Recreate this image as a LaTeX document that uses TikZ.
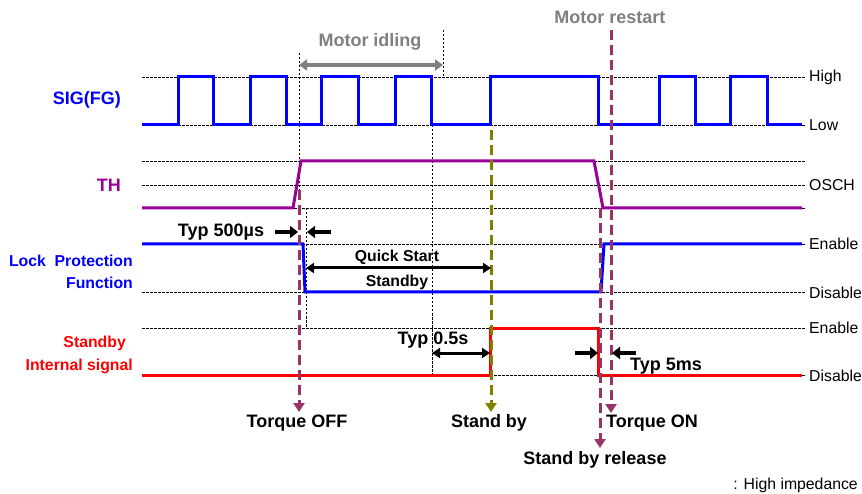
\documentclass[tikz,border=0pt]{standalone}
\usepackage{fontspec}
\setmainfont{Liberation Sans}
\usetikzlibrary{arrows.meta}
\definecolor{sigblue}{HTML}{0000FF}
\definecolor{thpurple}{HTML}{990099}
\definecolor{sbred}{HTML}{FF0000}
\definecolor{maroon}{HTML}{993366}
\definecolor{olive}{HTML}{808000}
\definecolor{motorgray}{HTML}{808080}
\tikzset{
  refline/.style={black,line width=0.9pt,dash pattern=on 2.5pt off 1.5pt},
  wave/.style={line width=3pt,line join=miter},
  evarrow/.style={line width=3pt,dash pattern=on 10pt off 5pt,-{Triangle[length=9pt,width=11pt]}},
  dimarrow/.style={black,line width=3.5pt,-{Triangle[length=8pt,width=12pt]}},
  dimboth/.style={black,line width=3pt,{Triangle[length=8pt,width=10pt]}-{Triangle[length=8pt,width=10pt]}},
  bigb/.style={font=\fontsize{18}{20}\selectfont\bfseries,inner sep=1pt},
  smallb/.style={font=\fontsize{15.8}{18}\selectfont\bfseries,inner sep=1pt},
  lvl/.style={font=\fontsize{15.8}{18}\selectfont,inner sep=0pt,anchor=west},
}
\begin{document}
\begin{tikzpicture}[x=1pt,y=-1pt]
\useasboundingbox[fill=white] (0,0) rectangle (862,494);
% reference lines
\foreach \yy in {77,125,161,185,208,244,292,328,375}
  \draw[refline] (142,\yy) -- (805,\yy);
% vertical dotted markers
\draw[refline] (299,53) -- (299,190);
\draw[refline] (306,208) -- (306,328);
\draw[refline] (443,30) -- (443,77);
\draw[refline] (432,125) -- (432,375);
% level labels
\node[lvl] (lhigh) at (809,77) {High};
\node[lvl] (llow) at (809,125) {Low};
\node[lvl] (losch) at (809,185) {OSCH};
\node[lvl] (len1) at (809,244) {Enable};
\node[lvl] (ldis1) at (809,293) {Disable};
\node[lvl] (len2) at (809,328) {Enable};
\node[lvl] (ldis2) at (809,376) {Disable};
% signal names
\node[bigb,text=sigblue,anchor=east] (nsig) at (122,100) {SIG(FG)};
\node[bigb,text=thpurple,anchor=east] (nth) at (122,185) {TH};
\node[smallb,text=sigblue,anchor=east] (nlock) at (134,261) {Lock\ \ Protection};
\node[smallb,text=sigblue,anchor=east] (nfun) at (134,283) {Function};
\node[smallb,text=sbred,anchor=east] (nsb) at (127,343) {Standby};
\node[smallb,text=sbred,anchor=east] (nint) at (134,366) {Internal signal};
% waveforms
\draw[wave,sigblue] (142,125) -| (178,77) -| (213,125) -| (250,77) -| (286,125) -| (321,77) -| (358,125) -| (395,77) -| (431,125) -| (490,77) -| (598,125) -| (659,77) -| (695,125) -| (730,77) -| (767,125) -- (802,125);
\draw[wave,thpurple] (142,208) -- (293,208) -- (301,161) -- (594,161) -- (603,208) -- (802,208);
\draw[wave,sigblue] (142,244) -- (303,244) -- (305,292) -- (601,292) -- (604,244) -- (802,244);
\draw[wave,sbred] (142,375) -- (490,375) -- (490,328) -- (598,328) -- (598,375) -- (802,375);
% motor annotations
\node[bigb,text=motorgray] (idle) at (370,42) {Motor idling};
\node[bigb,text=motorgray] (restart) at (610,17) {Motor restart};
\coordinate (idleA) at (299,65);
\coordinate (idleB) at (443,65);
\draw[motorgray,line width=3.5pt,{Triangle[length=8pt,width=11pt]}-{Triangle[length=8pt,width=11pt]}] (idleA) -- (idleB);
% event labels
\node[bigb] (toff) at (297,423) {Torque OFF};
\node[bigb] (sby) at (489,423) {Stand by};
\node[bigb] (ton) at (652,423) {Torque ON};
\node[bigb] (sbr) at (595,460) {Stand by release};
\node[lvl,anchor=east] (himp) at (858,485) {: High impedance};
% event arrows
\coordinate (eoff) at (299,190);
\coordinate (esby) at (491,130);
\coordinate (esbr) at (600,208);
\coordinate (eton) at (611,30);
\draw[evarrow,maroon] (eoff) -- (299,412);
\draw[evarrow,olive] (esby) -- (491,412);
\draw[evarrow,maroon] (esbr) -- (600,448);
\draw[evarrow,maroon] (eton) -- (611,413);
% Typ 500us
\node[bigb] (t500) at (221,232) {Typ 500µs};
\coordinate (a1s) at (275,232); \coordinate (a1e) at (298,232);
\coordinate (a2s) at (331,232); \coordinate (a2e) at (307,232);
\draw[dimarrow] (a1s) -- (a1e);
\draw[dimarrow] (a2s) -- (a2e);
% Quick start standby
\node[smallb] (qs) at (397,257) {Quick Start};
\node[smallb] (qsb) at (397,282) {Standby};
\coordinate (qa) at (306,268); \coordinate (qb) at (491,268);
\draw[dimboth] (qa) -- (qb);
% Typ 0.5s
\node[bigb] (t05) at (433,340) {Typ 0.5s};
\coordinate (ha) at (432,353); \coordinate (hb) at (490,353);
\draw[dimboth] (ha) -- (hb);
% Typ 5ms
\node[bigb] (t5) at (666,366) {Typ 5ms};
\coordinate (b1s) at (575,353); \coordinate (b1e) at (598,353);
\coordinate (b2s) at (636,353); \coordinate (b2e) at (612,353);
\draw[dimarrow] (b1s) -- (b1e);
\draw[dimarrow] (b2s) -- (b2e);
\end{tikzpicture}
\end{document}
